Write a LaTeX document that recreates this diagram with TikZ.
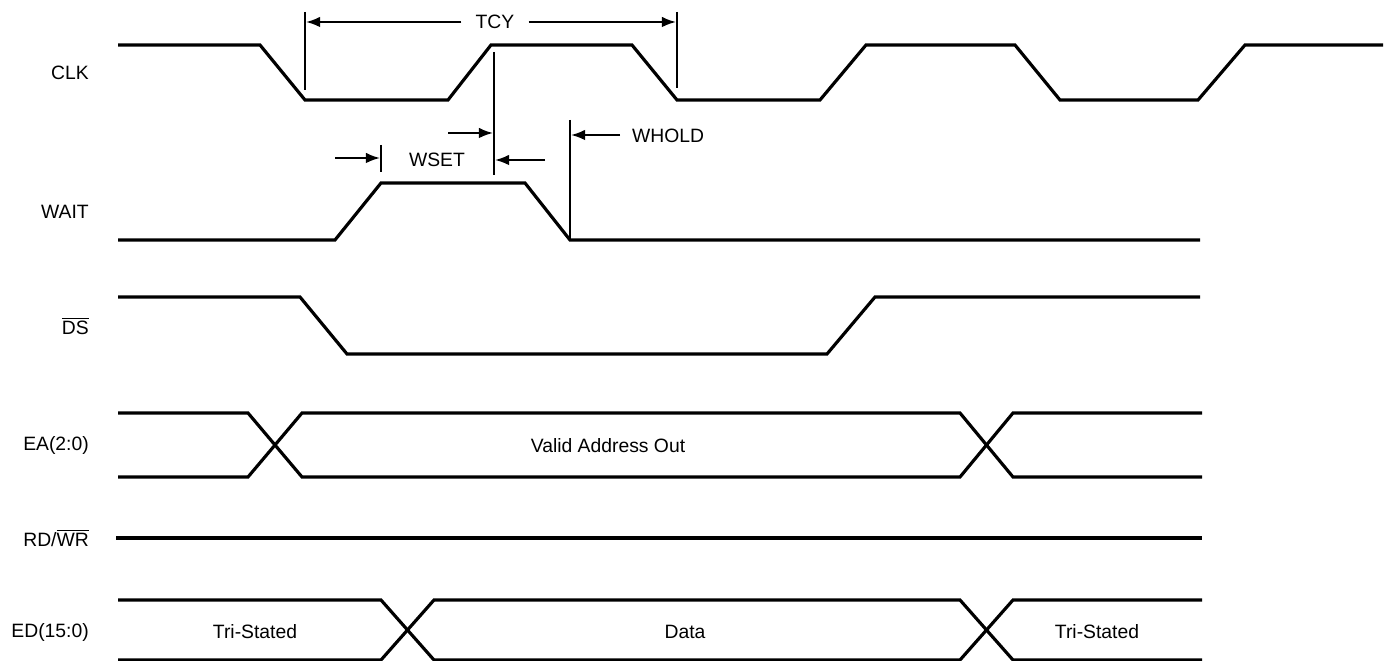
\documentclass[tikz,border=0pt]{standalone}
\usepackage{fontspec}
\setmainfont{Liberation Sans}
\usetikzlibrary{arrows.meta}
\begin{document}
\begin{tikzpicture}[x=0.02cm, y=-0.02cm,
    sig/.style={line width=1.8pt, line join=miter},
    tick/.style={line width=1.1pt},
    dim/.style={line width=1.1pt, -{Latex[length=8pt,width=6pt]}},
    lbl/.style={anchor=east, font=\fontsize{11}{13}\selectfont},
    txt/.style={font=\fontsize{11}{13}\selectfont}]
    \useasboundingbox (0,0) rectangle (1393,661);
    % signal names
    \node[lbl] (clk) at (95,73) {CLK};
    \node[lbl] (wait) at (95,212) {WAIT};
    \node[lbl] (ds) at (95,326) {$\overline{\hbox{DS}}$};
    \node[lbl] (ea) at (95,446) {EA(2:0)};
    \node[lbl] (rdwr) at (95,538) {RD/$\overline{\hbox{WR}}$};
    \node[lbl] (ed) at (95,632) {ED(15:0)};
    % CLK
    \draw[sig](118,45)--(260,45)--(305,100)--(448,100)--(491,45)--(632,45)--(677,100)--(820,100)--(866,45)--(1015,45)--(1060,100)--(1198,100)--(1245,45)--(1383,45);
    % WAIT
    \draw[sig](118,240)--(335,240)--(381,183)--(525,183)--(570,240)--(1200,240);
    % DS
    \draw[sig](118,297)--(300,297)--(347,354)--(827,354)--(875,297)--(1200,297);
    % EA
    \draw[sig](118,477)--(248,477)--(302,413)--(960,413)--(1013,477)--(1202,477);
    \draw[sig](118,413)--(248,413)--(302,477)--(960,477)--(1013,413)--(1202,413);
    \node[txt] (addr) at (608,446) {Valid Address Out};
    % RD/WR
    \draw[sig](116,538)--(1202,538);
    % ED
    \draw[sig](118,600)--(381,600)--(434,660)--(960,660)--(1013,600)--(1202,600);
    \draw[sig](118,660)--(381,660)--(434,600)--(960,600)--(1013,660)--(1202,660);
    \node[txt] (tri1) at (255,632) {Tri-Stated};
    \node[txt] (data) at (685,632) {Data};
    \node[txt] (tri2) at (1097,632) {Tri-Stated};
    % TCY
    \draw[tick](305,12)--(305,90);
    \draw[tick](677,12)--(677,88);
    \coordinate (tcyL) at (306,22);
    \coordinate (tcyR) at (676,22);
    \node[txt, inner xsep=8pt] (tcy) at (495,22) {TCY};
    \draw[dim](tcy.west)--(tcyL);
    \draw[dim](tcy.east)--(tcyR);
    % WSET
    \draw[tick](494,52)--(494,175);
    \draw[tick](381,145)--(381,172);
    \coordinate (wsetA) at (380,158);
    \coordinate (wsetB) at (335,158);
    \coordinate (wsetC) at (495,160);
    \coordinate (wsetD) at (545,160);
    \coordinate (wsetE) at (448,133);
    \coordinate (wsetF) at (493,133);
    \draw[dim](wsetB)--(wsetA);
    \draw[dim](wsetD)--(wsetC);
    \draw[dim](wsetE)--(wsetF);
    \node[txt] (wset) at (437,160) {WSET};
    % WHOLD
    \draw[tick](570,120)--(570,240);
    \coordinate (wholdA) at (620,135);
    \coordinate (wholdB) at (571,135);
    \draw[dim](wholdA)--(wholdB);
    \node[txt, anchor=west] (whold) at (626,136) {WHOLD};
\end{tikzpicture}
\end{document}
